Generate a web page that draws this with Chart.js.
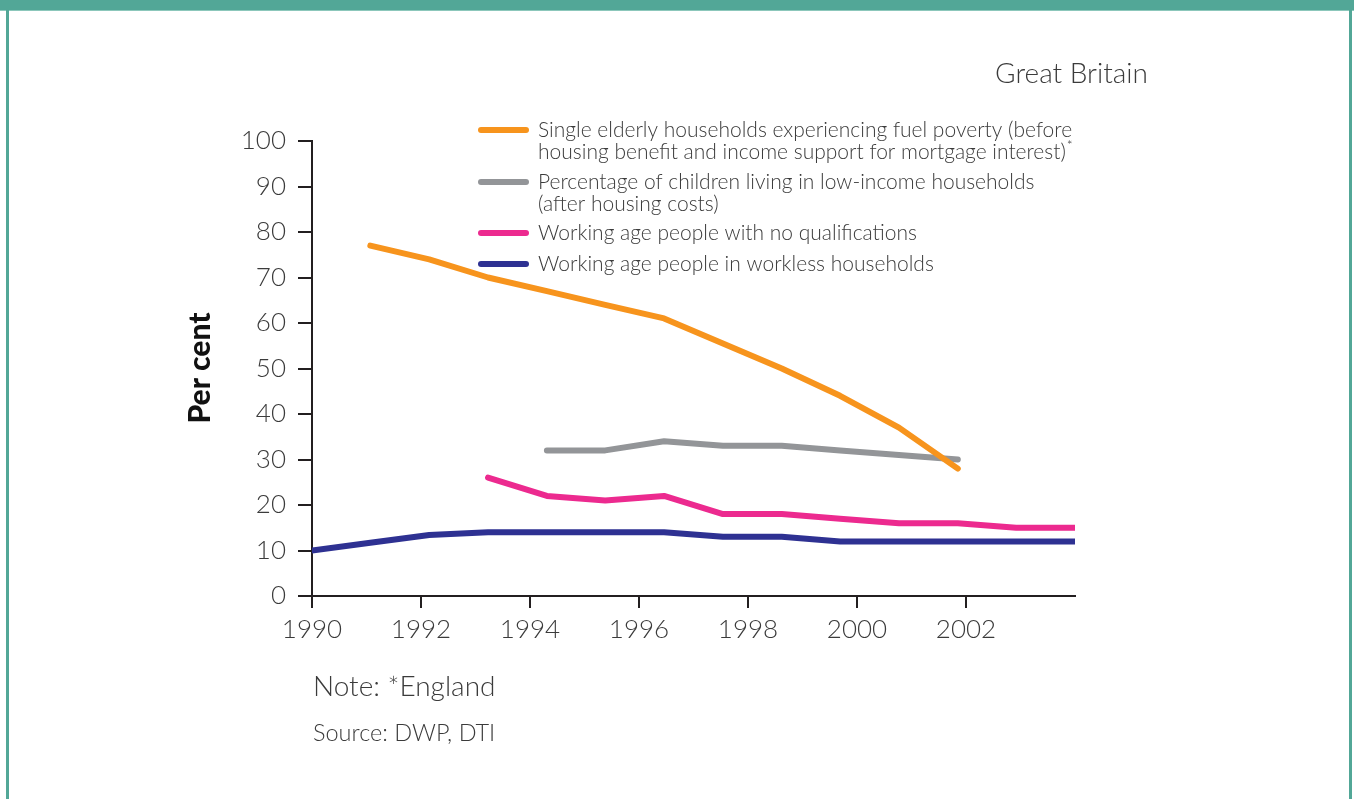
<!DOCTYPE html>
<html>
<head>
<meta charset="utf-8">
<script src="https://cdn.jsdelivr.net/npm/chart.js@4.4.1/dist/chart.umd.min.js"></script>
<style>
  html, body { margin: 0; padding: 0; background: #fff; }
  #wrap { position: relative; width: 1354px; height: 799px; overflow: hidden; }
  #topband { position: absolute; left: 0; top: 0; width: 1354px; height: 10px; background: #52a797; border-bottom: 1px solid #8cc7bb; }
  #lline { position: absolute; left: 6px; top: 0; width: 3px; height: 799px; background: #52a797; }
  #rline { position: absolute; left: 1349px; top: 0; width: 3px; height: 799px; background: #52a797; }
  canvas { position: absolute; left: 0; top: 0; }
</style>
</head>
<body>
<div id="wrap">
  <canvas id="povertyChart" width="1354" height="799"></canvas>
  <div id="topband"></div>
  <div id="lline"></div>
  <div id="rline"></div>
</div>
<script>
// x positions of the data points (years)
const years = [1990, 1991.07, 1992.15, 1993.23, 1994.31, 1995.38, 1996.46, 1997.54, 1998.62, 1999.69, 2000.77, 2001.85, 2002.92, 2004];
const fuelPoverty = [null, 77, 74, 70, 67, 64, 61, 55.5, 50, 44, 37, 28, null, null];
const lowIncomeChildren = [null, null, null, null, 32, 32, 34, 33, 33, 32, 31, 30, null, null];
const noQualifications = [null, null, null, 26, 22, 21, 22, 18, 18, 17, 16, 16, 15, 15];
const worklessHouseholds = [10, 11.7, 13.4, 14, 14, 14, 14, 13, 13, 12, 12, 12, 12, 12];

const seriesLabels = [
  ['Single elderly households experiencing fuel poverty (before', 'housing benefit and income support for mortgage interest)*'],
  ['Percentage of children living in low-income households', '(after housing costs)'],
  ['Working age people with no qualifications'],
  ['Working age people in workless households']
];
const seriesColors = ['#f7941d', '#939598', '#ec2a8f', '#2e3192'];
const xTickYears = [1990, 1992, 1994, 1996, 1998, 2000, 2002];

const FONT = 'Lato, "Open Sans", sans-serif';
const TEXT = '#3b3b3b';

function toPoints(values) {
  return years.map((x, i) => ({ x: x, y: values[i] }));
}

const allSeries = [fuelPoverty, lowIncomeChildren, noQualifications, worklessHouseholds];

// legend, titles and notes
const extrasPlugin = {
  id: 'extras',
  afterDraw(chart) {
    const ctx = chart.ctx;
    ctx.save();
    ctx.fillStyle = TEXT;
    ctx.textBaseline = 'middle';

    ctx.font = '300 28px ' + FONT;
    ctx.textAlign = 'right';
    ctx.fillText('Great Britain', 1148, 74);

    ctx.textAlign = 'left';
    ctx.font = '300 28px ' + FONT;
    ctx.fillText('Note: *England', 313, 687);
    ctx.font = '300 23.5px ' + FONT;
    ctx.fillText('Source: DWP, DTI', 313, 733);

    // y title
    ctx.save();
    ctx.translate(200, 368);
    ctx.rotate(-Math.PI / 2);
    ctx.textAlign = 'center';
    ctx.fillStyle = '#111';
    ctx.font = '900 30px ' + FONT;
    ctx.fillText('Per cent', 0, 0);
    ctx.restore();

    // legend
    const rowY = [130, 182, 233, 264];
    const lineGap = 22;
    ctx.font = '300 21px ' + FONT;
    chart.data.datasets.forEach((ds, i) => {
      const y = rowY[i];
      ctx.strokeStyle = ds.borderColor;
      ctx.lineWidth = 6;
      ctx.lineCap = 'round';
      ctx.beginPath();
      ctx.moveTo(481, y);
      ctx.lineTo(526, y);
      ctx.stroke();
      ctx.fillStyle = TEXT;
      seriesLabels[i].forEach((line, j) => {
        const ly = y + j * lineGap;
        if (line.endsWith('*')) {
          const body = line.slice(0, -1);
          ctx.font = '300 21px ' + FONT;
          ctx.fillText(body, 538, ly);
          const w = ctx.measureText(body).width;
          ctx.font = '300 14px ' + FONT;
          ctx.fillText('*', 538 + w + 1, ly - 7);
          ctx.font = '300 21px ' + FONT;
        } else {
          ctx.fillText(line, 538, ly);
        }
      });
    });
    ctx.restore();
  }
};

new Chart(document.getElementById('povertyChart').getContext('2d'), {
  type: 'line',
  data: {
    datasets: allSeries.map((values, i) => ({
      label: seriesLabels[i].join(' '),
      data: toPoints(values),
      borderColor: seriesColors[i],
      backgroundColor: seriesColors[i],
      borderWidth: 6,
      borderCapStyle: 'round',
      borderJoinStyle: 'round',
      pointRadius: 0,
      tension: 0,
      spanGaps: false
    }))
  },
  options: {
    responsive: false,
    animation: false,
    layout: { padding: { left: 212, right: 279, top: 141, bottom: 143 } },
    plugins: {
      legend: { display: false },
      tooltip: { enabled: false }
    },
    scales: {
      x: {
        type: 'linear',
        min: 1990,
        max: 2004,
        afterBuildTicks(scale) {
          scale.ticks = xTickYears.map(v => ({ value: v }));
        },
        afterFit(scale) { scale.height = 60; },
        border: { display: true, color: '#231f20', width: 2 },
        grid: { drawOnChartArea: false, drawTicks: true, tickLength: 12, color: '#231f20', lineWidth: 2 },
        ticks: {
          color: TEXT,
          font: { family: FONT, size: 26, weight: '300' },
          padding: 6,
          maxRotation: 0,
          callback: v => String(v)
        }
      },
      y: {
        min: 0,
        max: 100,
        afterFit(scale) { scale.width = 100; },
        border: { display: true, color: '#231f20', width: 2 },
        grid: { drawOnChartArea: false, drawTicks: true, tickLength: 14, color: '#231f20', lineWidth: 2 },
        ticks: {
          stepSize: 10,
          color: TEXT,
          font: { family: FONT, size: 26, weight: '300' },
          padding: 12
        }
      }
    }
  },
  plugins: [extrasPlugin]
});
</script>
</body>
</html>
